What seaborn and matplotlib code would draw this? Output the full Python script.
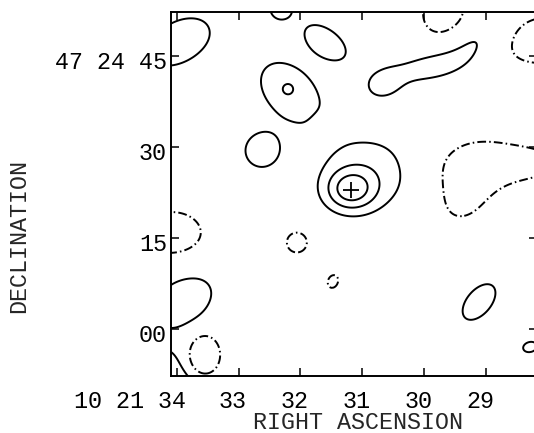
import numpy as np
import matplotlib
matplotlib.use('Agg')
import matplotlib.pyplot as plt
import seaborn as sns
from matplotlib.transforms import ScaledTranslation

# Map frame: RA seconds past 10h21m, Dec arcsec past +47d24'
ra_ticks = [34, 33, 32, 31, 30, 29]
ra_labels = ['10 21 34', '33', '32', '31', '30', '29']
dec_ticks = [0, 15, 30, 45]
dec_labels = ['00', '15', '30', '47 24 45']
ra_range = (34.09, 28.18)
dec_range = (-7.75, 52.3)

# Brightness components:
# RA (s), Dec ("), peak (contour units), major / minor width ("), position angle (deg)
comp_ra = [33.960, 32.315, 31.588, 29.682, 28.131, 30.640, 30.005, 29.229,
           32.170, 32.202, 32.630, 31.200, 30.845, 31.604, 28.615, 29.342,
           34.076, 32.057, 31.475, 33.866, 29.116, 28.292, 33.559, 34.351]
comp_dec = [47.30, 52.9, 47.30, 51.91, 47.63, 40.54, 43.01, 46.97,
            39.06, 39.55, 29.33, 22.91, 26.00, 33.12, 27.36, 22.91,
            15.82, 14.26, 7.83, 4.94, 4.45, -2.97, -4.45, -12.52]
comp_peak = [1.8, 1.8, 1.8, -1.8, -1.8, 1.5, 1.5, 1.5,
             1.5, 1.2, 1.8, 2.8, 1.5, -0.6, -1.5, -1.5,
             -1.8, -1.8, -1.8, 1.8, 1.8, 1.8, -5.0, 2.5]
comp_major = [4.87, 1.52, 3.35, 3.15, 5.72, 2.60, 3.60, 5.20,
              6.20, 0.66, 2.35, 2.97, 5.90, 1.50, 8.24, 5.10,
              4.40, 1.52, 0.99, 4.20, 3.19, 1.06, 2.06, 6.60]
comp_minor = [3.04, 1.52, 1.82, 3.37, 3.49, 2.00, 1.40, 2.50,
              4.20, 0.66, 2.35, 2.47, 4.90, 1.50, 2.93, 3.67,
              3.18, 1.52, 0.75, 3.00, 1.82, 0.76, 1.63, 6.60]
comp_angle = [30, 0, -37, 0, 0, 20, 12, 35,
              -46, 0, 0, 0, 0, 0, 0, 65,
              0, 0, 70, 30, 50, 15, 90, 0]

neg_levels = [-1]
pos_levels = [1, 2, 3]

# optical position marked with a cross
cross_ra = [31.18]
cross_dec = [22.9]

sns.set_style('ticks')
plt.rcParams['font.family'] = ['Liberation Mono', 'DejaVu Sans Mono']

# build the map on a grid
ra = np.linspace(ra_range[1] - 0.3, ra_range[0] + 0.3, 650)
dec = np.linspace(dec_range[0] - 4, dec_range[1] + 4, 650)
RA, DEC = np.meshgrid(ra, dec)
ra_scale = 15 * np.cos(np.radians(47.41))
Z = np.zeros_like(RA)
for r0, d0, a, smaj, smin, ang in zip(comp_ra, comp_dec, comp_peak,
                                      comp_major, comp_minor, comp_angle):
    u = (r0 - RA) * ra_scale
    v = DEC - d0
    t = np.radians(ang)
    x = u * np.cos(t) + v * np.sin(t)
    y = -u * np.sin(t) + v * np.cos(t)
    Z += a * np.exp(-0.5 * ((x / smaj) ** 2 + (y / smin) ** 2))

fig = plt.figure(figsize=(5.34, 4.33), dpi=100)
ax = fig.add_axes([171 / 534, 57 / 433, 366 / 534, 364.3 / 433])

ax.contour(RA, DEC, Z, levels=pos_levels, colors='k', linewidths=1.4,
           linestyles='solid')
ax.contour(RA, DEC, Z, levels=neg_levels, colors='k', linewidths=1.4,
           linestyles=[(0, (4.5, 1.6, 0.8, 1.6))])
sns.scatterplot(x=cross_ra, y=cross_dec, marker='+', s=130, color='k',
                linewidth=1.3, ax=ax, legend=False)

ax.set_xlim(*ra_range)
ax.set_ylim(*dec_range)
ax.set_xticks(ra_ticks)
ax.set_xticklabels(ra_labels)
ax.set_yticks(dec_ticks)
ax.set_yticklabels(dec_labels)
ax.tick_params(direction='in', length=6, width=1.1, top=True, right=True,
               labelsize=16.8, colors='k')
ax.tick_params(axis='x', pad=10)
ax.tick_params(axis='y', pad=3)
for sp in ax.spines.values():
    sp.set_linewidth(1.4)
    sp.set_color('k')

# typewriter labels sit a little left / below their ticks
shift_x = ScaledTranslation(-5.5 / 100, 0, fig.dpi_scale_trans)
first_x = ScaledTranslation(9.5 / 100, 0, fig.dpi_scale_trans)
shift_y = ScaledTranslation(0, -4.5 / 100, fig.dpi_scale_trans)
for i, lab in enumerate(ax.get_xticklabels()):
    if i == 0:
        lab.set_ha('right')
        lab.set_transform(lab.get_transform() + first_x)
    else:
        lab.set_transform(lab.get_transform() + shift_x)
for lab in ax.get_yticklabels():
    lab.set_transform(lab.get_transform() + shift_y)

ax.set_xlabel('RIGHT ASCENSION', fontsize=16.8)
ax.set_ylabel('DECLINATION', fontsize=16.8)
ax.xaxis.set_label_coords(0.5096, -0.095)
ax.yaxis.set_label_coords(-0.385, 0.384)

fig.savefig('out.png', dpi=100)
plt.close(fig)
